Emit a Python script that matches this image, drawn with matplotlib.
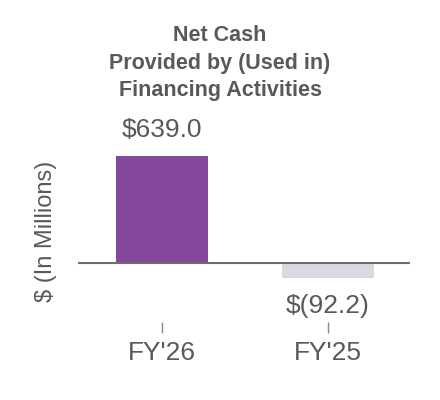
import matplotlib
matplotlib.use("Agg")
from matplotlib import pyplot as plt

# data
years = ["FY'26", "FY'25"]
values = [639.0, -92.2]
labels = ["$639.0", "$(92.2)"]
colors = ["#83479B", "#D9D9E3"]

txt = "#595959"
plt.rcParams['font.family'] = ['Liberation Sans', 'DejaVu Sans']

fig = plt.figure(figsize=(4.4, 4.0), dpi=100)
ax = fig.add_axes([78 / 440, 0.1675, 332 / 440, 0.4575])

pos = list(range(len(years)))
ax.bar(pos, values, width=0.56, color=colors, zorder=2)
ax.axhline(0, color="#6e6e6e", lw=1.5, zorder=3)

for p, v, lab in zip(pos, values, labels):
    off = 19 if v >= 0 else -20
    ax.annotate(lab, (p, v), xytext=(0, off), textcoords="offset points",
                ha="center", va="center", fontsize=19, color=txt)

ax.set_xlim(-0.506, 1.494)
ax.set_ylim(-418, 675)
ax.set_xticks(pos)
ax.set_xticklabels(years)
ax.set_yticks([])
ax.tick_params(axis="x", direction="in", length=8, width=1, color="#888888",
               labelsize=19, labelcolor=txt, pad=6)
for s in ax.spines.values():
    s.set_visible(False)

fig.text(0.5, 1 - 63 / 400, "Net Cash\nProvided by (Used in)\nFinancing Activities",
         ha="center", va="center", fontsize=15.5, fontweight="bold", color=txt,
         linespacing=1.38)
fig.text(46 / 440, 1 - 231 / 400, "$ (In Millions)", rotation=90,
         ha="center", va="center", fontsize=17, color=txt)

fig.savefig("out.png", dpi=100)
